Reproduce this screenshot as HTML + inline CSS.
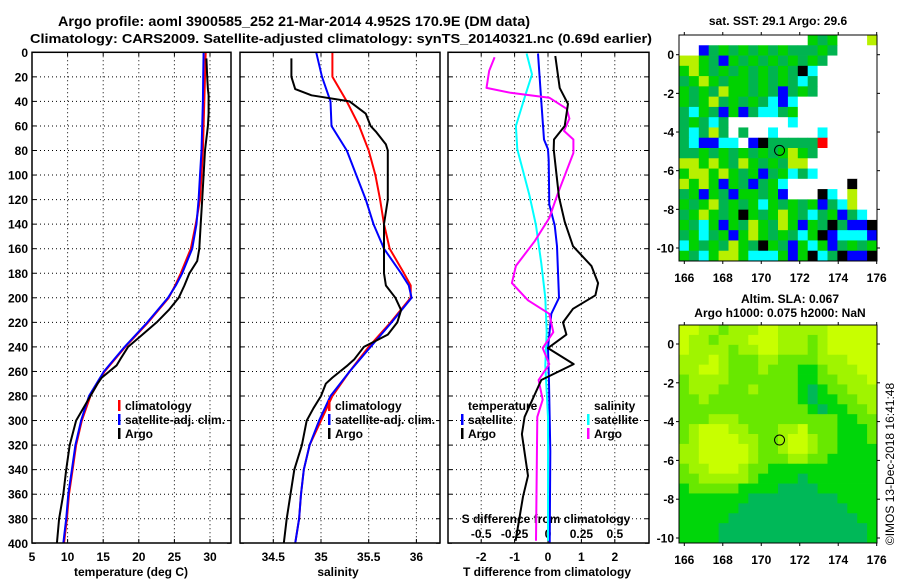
<!DOCTYPE html>
<html><head><meta charset="utf-8"><style>
html,body{margin:0;padding:0;background:#fff;}
svg{display:block;font-family:"Liberation Sans",Arial,sans-serif;font-weight:bold;}
</style></head><body>
<svg id="c" width="900" height="580" viewBox="0 0 900 580" xmlns="http://www.w3.org/2000/svg">
<rect width="900" height="580" fill="#fff"/>
<text x="294" y="26" font-size="14" text-anchor="middle" textLength="472" lengthAdjust="spacingAndGlyphs">Argo profile: aoml 3900585_252 21-Mar-2014 4.952S 170.9E (DM data)</text>
<text x="341" y="43" font-size="13" text-anchor="middle" textLength="622" lengthAdjust="spacingAndGlyphs">Climatology: CARS2009. Satellite-adjusted climatology: synTS_20140321.nc (0.69d earlier)</text>
<text x="778" y="25" font-size="12" text-anchor="middle">sat. SST: 29.1 Argo: 29.6</text>
<text x="790" y="303" font-size="12" text-anchor="middle">Altim. SLA: 0.067</text>
<text x="780" y="317" font-size="12" text-anchor="middle">Argo h1000: 0.075 h2000: NaN</text>
<text transform="translate(894,464) rotate(-90)" font-size="12" font-weight="normal" text-anchor="middle">©IMOS 13-Dec-2018 16:41:48</text>
<g id="g"></g>
</svg>
<script>
// ---- data ----
const depthTicks=[0,20,40,60,80,100,120,140,160,180,200,220,240,260,280,300,320,340,360,380,400];
const tempTicks=[5,10,15,20,25,30];
const salTicks=[34.5,35,35.5,36];
const salTickLabels=['34.5','35','35.5','36'];
const tdiffTicks=[-2,-1,0,1,2];
const sdiffTicks=[-0.5,-0.25,0,0.25,0.5];
const sdiffTickLabels=['-0.5','-0.25','0','0.25','0.5'];

const climDepth=[0,20,40,60,80,100,120,140,160,180,190,200,220,240,260,280,300,320,340,360,380,400];
const climT=[29.4,29.3,29.2,29.1,29.0,28.8,28.6,28.0,27.3,25.9,25.1,24.2,21.3,18.1,15.2,13.2,12.0,11.2,10.7,10.2,9.9,9.5];
const satT=[29.1,29.05,29.0,28.9,28.8,28.6,28.4,28.1,27.5,26.1,25.2,24.1,21.2,18.0,15.1,13.0,11.9,11.1,10.6,10.1,9.8,9.4];
const climS=[35.12,35.12,35.27,35.40,35.50,35.57,35.62,35.66,35.72,35.87,35.94,35.94,35.73,35.50,35.30,35.12,35.00,34.88,34.82,34.79,34.77,34.73];
const satS=[34.95,35.01,35.10,35.11,35.27,35.37,35.47,35.55,35.66,35.84,35.92,35.95,35.74,35.52,35.30,35.10,34.98,34.88,34.82,34.79,34.77,34.73];

const argoDepth=[5,20,30,35,40,50,60,65,75,80,100,120,140,160,170,180,190,200,210,220,230,240,250,255,265,270,280,290,300,320,340,360,380,400];
const argoT=[29.5,29.6,29.7,29.8,29.8,29.8,29.7,29.6,29.4,29.3,29.1,28.9,28.7,28.5,28.2,27.1,26.4,25.6,24.2,22.5,20.5,18.5,17.4,16.9,14.8,14.2,13.2,12.2,11.2,10.3,9.8,9.4,8.8,8.5];
const argoS=[34.69,34.69,34.73,34.9,35.3,35.47,35.52,35.58,35.68,35.7,35.7,35.7,35.66,35.66,35.66,35.66,35.68,35.78,35.84,35.8,35.7,35.45,35.35,35.28,35.12,35.05,35.0,34.92,34.85,34.8,34.72,34.68,34.64,34.61];

const tsatDepth=[1,40,71,79,88,124,141,158,200,213,241,269,325,400];
const tsatDiff=[-0.3,-0.2,-0.12,0,0.02,0.04,0.2,0.27,0.33,0.1,0,0.03,0.07,0.05];
const targoDepth=[3,29,42,60,71,79,118,138,158,174,188,198,209,220,230,241,254,267,297,311,345,362,398];
const targoDiff=[0.22,0.35,0.6,0.5,0.18,0.17,0.33,0.5,0.75,1.3,1.5,1.42,0.75,0.45,0.55,0.0,0.77,-0.2,-0.7,-0.78,-0.6,-0.75,-0.97];
const ssatDepth=[1,18,35,60,79,116,141,172,200,228,255,297,398];
const ssatDiff=[-0.16,-0.12,-0.17,-0.24,-0.23,-0.14,-0.09,-0.05,-0.02,-0.01,-0.02,0,0];
const sargoDepth=[4,15,29,33,37,46,54,64,71,82,116,135,154,174,188,202,213,228,241,254,267,283,297,398];
const sargoDiff=[-0.4,-0.44,-0.46,-0.28,0.01,0.14,0.16,0.12,0.19,0.19,0.07,0.01,-0.1,-0.24,-0.27,-0.15,0.01,0.04,-0.04,0.01,-0.07,-0.04,-0.08,-0.09];

const lonTicks=[166,168,170,172,174,176];
const latTicks=[0,-2,-4,-6,-8,-10];
const argoLon=170.95, argoLat=-4.95;
const sstGrid=[
"WWWWWWWWWWWWWGgGWWWy",
"WWbgGgGgGgGgggGgWWWW",
"yyGgbGgGgGgGgGgWWWWW",
"GyGgGgGgGgGgkcWWWWWW",
"gGyGgGGgGgGgcgWWWWWW",
"GgGgyGGgGgbgGgWWWWWW",
"GgGygGgGgcbcWWWWWWWW",
"gcGgbGbgccgGWWWWWWWW",
"gGgcgWWWWWWcWWWWWWWW",
"gcgygWgWWcWWWWcWWWWW",
"gcbbccWbkgggggrWWWWW",
"ggGgGgGgGgGyGgWWWWWW",
"yyGyGgyGgGgyyWWWWWWW",
"GyyGyGgGbgGcgcWWWWWW",
"yGyGbGgbgGcWWWWWWkWW",
"gGbGgbGGgGbWWWkcWyWW",
"GgGygGgGcGgGgGbgcyWW",
"gGyGgGkGgGyGgcgGbgcW",
"GgcGbGgyGgyGbGgkgbbk",
"gGcgGbGyGgGgcGkbcccb",
"cGgGgyGgkGgbGcGbgGgG",
"GgcGyyGcccGbGkcgkbbk"];
const slaGrid=[
"44332333443333344444",
"43323334443332344444",
"43333233443332344444",
"33343222332222333444",
"33443222322211233344",
"23333222222211223334",
"23332223222210122333",
"22322222222210112233",
"22222222222221011223",
"22233322222222221122",
"23444332223342221112",
"23444433223443221112",
"33444443223443221111",
"33444443222332211111",
"23344432211111111111",
"22333332111101111111",
"12222211110000111111",
"11111110000000001111",
"11111100000000000111",
"11111000000000000011",
"11110000000000000001",
"11110000000000000001"];

// ---- scales ----
const yD=d=>52.3+d*1.2275;
const xT=v=>32+(v-5)*7.12;
const xS=v=>321+(v-35)*95.4;
const xD=v=>548+v*33.4;
const xSD=v=>xD(v*4);
const NS='http://www.w3.org/2000/svg';
const G=document.getElementById('g');
function mk(tag,attrs,parent){const e=document.createElementNS(NS,tag);for(const k in attrs)e.setAttribute(k,attrs[k]);(parent||G).appendChild(e);return e;}
function txt(x,y,s,anchor,size,parent){const t=mk('text',{x:x,y:y,'font-size':size||12,'text-anchor':anchor||'middle'},parent);t.textContent=s;return t;}

const panels=[{x0:32,x1:231,name:'temperature-panel'},{x0:240,x1:440,name:'salinity-panel'},{x0:448,x1:649,name:'difference-panel'}];
panels.forEach(p=>{
  const g=mk('g',{});
  
  
  depthTicks.forEach(d=>{
    if(d>0&&d<400){const l=mk('line',{x1:p.x0,x2:p.x1,y1:yD(d),y2:yD(d),stroke:'#000','stroke-width':1,'stroke-dasharray':'1 3'},g);
    
    }
    mk('line',{x1:p.x0,x2:p.x0+4,y1:yD(d),y2:yD(d),stroke:'#000'},g);
    mk('line',{x1:p.x1-4,x2:p.x1,y1:yD(d),y2:yD(d),stroke:'#000'},g);
  });
  p.g=g;
});
depthTicks.forEach(d=>{const t=txt(28,yD(d)+4.5,String(d),'end');

});
function vgrid(g,xs){xs.forEach(x=>{mk('line',{x1:x,x2:x,y1:52.3,y2:543,stroke:'#000','stroke-dasharray':'1 3'},g);mk('line',{x1:x,x2:x,y1:539,y2:543,stroke:'#000'},g);mk('line',{x1:x,x2:x,y1:52.3,y2:56,stroke:'#000'},g);});}
vgrid(panels[0].g,tempTicks.filter(v=>v>5).map(xT));
vgrid(panels[1].g,salTicks.map(xS));
vgrid(panels[2].g,tdiffTicks.map(xD));
tempTicks.forEach(v=>{const t=txt(xT(v),561,String(v));});
salTicks.forEach((v,i)=>{const t=txt(xS(v),561,salTickLabels[i]);});
tdiffTicks.forEach(v=>{const t=txt(xD(v),561,String(v));});
sdiffTicks.forEach((v,i)=>{const t=txt(xSD(v),538,sdiffTickLabels[i]);});
let t;
t=txt(131,576,'temperature (deg C)');
t=txt(338,576,'salinity');
t=txt(547,576,'T difference from climatology');
t=txt(546,523,'S difference from climatology');

function line(depths,vals,xf,color,name,w){
  const pts=depths.map((d,i)=>xf(vals[i]).toFixed(1)+','+yD(d).toFixed(1)).join(' ');
  const l=mk('polyline',{points:pts,fill:'none',stroke:color,'stroke-width':w||2,'stroke-linejoin':'round'});
  
  
}
line(climDepth,climT,xT,'#f00','temp-climatology-line');
line(climDepth,satT,xT,'#00f','temp-satellite-line');
line(argoDepth,argoT,xT,'#000','temp-argo-line');
line(climDepth,climS,xS,'#f00','sal-climatology-line');
line(climDepth,satS,xS,'#00f','sal-satellite-line');
line(argoDepth,argoS,xS,'#000','sal-argo-line');
line(tsatDepth,tsatDiff,xD,'#00f','t-diff-satellite-line');
line(ssatDepth,ssatDiff,xSD,'#0ff','s-diff-satellite-line');
line(sargoDepth,sargoDiff,xSD,'#f0f','s-diff-argo-line');
line(targoDepth,targoDiff,xD,'#000','t-diff-argo-line');

panels.forEach(p=>{mk('rect',{x:p.x0,y:52.3,width:p.x1-p.x0,height:490.7,fill:'none',stroke:'#000','stroke-width':1.5});});

function leg(x,y,color,label,name){
  const g=mk('g',{});
  
  
  if(color)mk('rect',{x:x-7,y:y-10,width:2.5,height:11,fill:color},g);
  txt(x,y,label,'start',12,g);
}
leg(125,410,'#f00','climatology','legend-climatology');
leg(125,424,'#00f','satellite-adj. clim.','legend-satellite-adj');
leg(125,438,'#000','Argo','legend-argo');
leg(335,410,'#f00','climatology','legend-climatology-sal');
leg(335,424,'#00f','satellite-adj. clim.','legend-satellite-adj-sal');
leg(335,438,'#000','Argo','legend-argo-sal');
leg(468,410,null,'temperature','legend-temperature-header');
leg(468,424,'#00f','satellite','legend-t-satellite');
leg(468,438,'#000','Argo','legend-t-argo');
leg(594,410,null,'salinity','legend-salinity-header');
leg(594,424,'#0ff','satellite','legend-s-satellite');
leg(594,438,'#f0f','Argo','legend-s-argo');

const sstColors={W:'#fff',g:'#00b450',G:'#00d200',y:'#b8f000',c:'#00ffff',b:'#0000ff',k:'#000',r:'#ff0000'};
const slaColors=['#00b858','#00d60a','#68e800','#a0f400','#c8ff00'];
function map(top,bottom,lat0,lat10,grid,colorOf,name){
  const x0=679,x1=877;
  const g=mk('g',{});
  
  
  const rows=grid.length,cols=grid[0].length;
  const cw=(x1-x0)/cols,ch=(bottom-top)/rows;
  grid.forEach((row,r)=>{for(let c=0;c<cols;c++){
    mk('rect',{x:(x0+c*cw).toFixed(2),y:(top+r*ch).toFixed(2),width:(cw+0.4).toFixed(2),height:(ch+0.4).toFixed(2),fill:colorOf(row[c])},g);
  }});
  const xL=lon=>684.3+(lon-166)*19.24;
  const yL=lat=>lat0+(lat0-lat10)/10*lat;
  mk('rect',{x:x0,y:top,width:x1-x0,height:bottom-top,fill:'none',stroke:'#000','stroke-width':1},g);
  lonTicks.forEach(v=>{mk('line',{x1:xL(v),x2:xL(v),y1:top-3,y2:top,stroke:'#000'},g);mk('line',{x1:xL(v),x2:xL(v),y1:bottom,y2:bottom+3,stroke:'#000'},g);
    const l=txt(xL(v),bottom+21,String(v),'middle',12,g);
    
    });
  latTicks.forEach(v=>{mk('line',{x1:x0-3,x2:x0,y1:yL(v),y2:yL(v),stroke:'#000'},g);mk('line',{x1:x1,x2:x1+3,y1:yL(v),y2:yL(v),stroke:'#000'},g);
    const l=txt(674,yL(v)+4.5,String(v),'end',12,g);
    
    });
  const c=mk('circle',{cx:xL(argoLon),cy:yL(argoLat),r:5,fill:'none',stroke:'#000','stroke-width':1},g);
  
  
}
map(35,261,54.7,248,sstGrid,ch=>sstColors[ch],'sst-map');
map(325,543,344,538,slaGrid,ch=>slaColors[+ch],'sla-map');
</script>
</body></html>
